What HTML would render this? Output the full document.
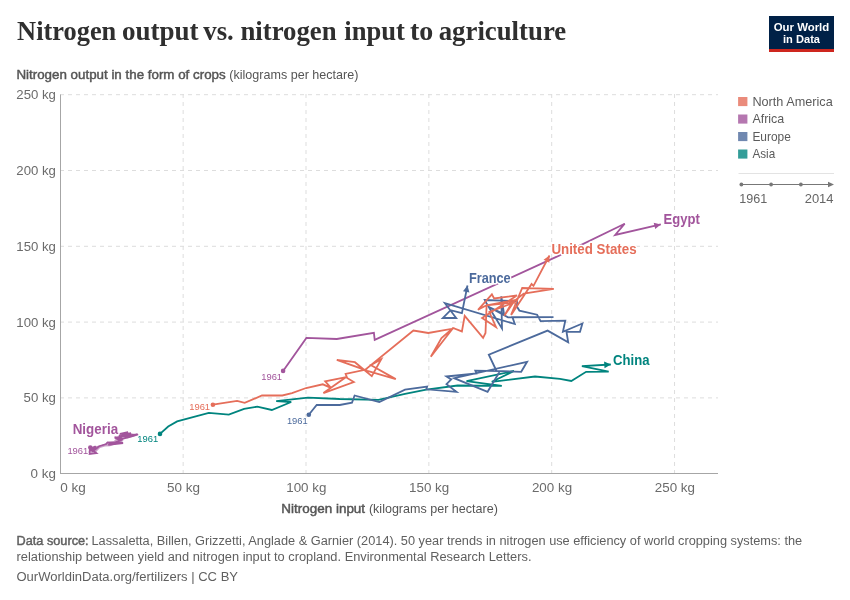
<!DOCTYPE html>
<html><head><meta charset="utf-8"><style>
html,body{margin:0;padding:0;background:#fff;width:850px;height:600px;overflow:hidden}
svg{display:block;font-family:"Liberation Sans",sans-serif;will-change:transform}
.lbl text{paint-order:stroke;stroke:#fff;stroke-width:3px;stroke-linejoin:round}
.semi{stroke:#555;stroke-width:0.45px}
.semi2{stroke:#606060;stroke-width:0.45px}
.yr text{paint-order:stroke;stroke:#fff;stroke-width:2px;stroke-linejoin:round}
</style></head><body>
<svg width="850" height="600" viewBox="0 0 850 600">
<rect width="850" height="600" fill="#fff"/>
<rect x="769" y="16" width="65" height="36" fill="#002147"/>
<rect x="769" y="49" width="65" height="3" fill="#CE261E"/>
<text x="801.5" y="30.7" font-size="11.6" fill="#fff" font-weight="bold" text-anchor="middle" textLength="55.5" lengthAdjust="spacingAndGlyphs">Our World</text>
<text x="801.5" y="42.5" font-size="11.6" fill="#fff" font-weight="bold" text-anchor="middle" textLength="37" lengthAdjust="spacingAndGlyphs">in Data</text>

<g stroke="#ddd" stroke-width="1" stroke-dasharray="4,4">
<line x1="60" y1="397.9" x2="718" y2="397.9"/>
<line x1="60" y1="322.1" x2="718" y2="322.1"/>
<line x1="60" y1="246.3" x2="718" y2="246.3"/>
<line x1="60" y1="170.5" x2="718" y2="170.5"/>
<line x1="60" y1="94.7" x2="718" y2="94.7"/>
<line x1="183.15" y1="94" x2="183.15" y2="473"/>
<line x1="306" y1="94" x2="306" y2="473"/>
<line x1="428.85" y1="94" x2="428.85" y2="473"/>
<line x1="551.7" y1="94" x2="551.7" y2="473"/>
<line x1="674.55" y1="94" x2="674.55" y2="473"/>
</g>
<line x1="60.5" y1="94.5" x2="60.5" y2="473.5" stroke="#a6a6a6" stroke-width="1"/>
<line x1="60" y1="473.5" x2="718" y2="473.5" stroke="#a6a6a6" stroke-width="1"/>
<text x="17.1" y="40.1" font-size="27.6" fill="#2f2f2f" font-weight="bold" font-family="Liberation Serif" textLength="99.2" lengthAdjust="spacingAndGlyphs">Nitrogen</text>
<text x="121.92" y="40.1" font-size="27.6" fill="#2f2f2f" font-weight="bold" font-family="Liberation Serif" textLength="76.7" lengthAdjust="spacingAndGlyphs">output</text>
<text x="203.3" y="40.1" font-size="27.6" fill="#2f2f2f" font-weight="bold" font-family="Liberation Serif" textLength="30.49" lengthAdjust="spacingAndGlyphs">vs.</text>
<text x="240.4" y="40.1" font-size="27.6" fill="#2f2f2f" font-weight="bold" font-family="Liberation Serif" textLength="96.24" lengthAdjust="spacingAndGlyphs">nitrogen</text>
<text x="344.25" y="40.1" font-size="27.6" fill="#2f2f2f" font-weight="bold" font-family="Liberation Serif" textLength="60.66" lengthAdjust="spacingAndGlyphs">input</text>
<text x="409.9" y="40.1" font-size="27.6" fill="#2f2f2f" font-weight="bold" font-family="Liberation Serif" textLength="23.31" lengthAdjust="spacingAndGlyphs">to</text>
<text x="438.73" y="40.1" font-size="27.6" fill="#2f2f2f" font-weight="bold" font-family="Liberation Serif" textLength="127.47" lengthAdjust="spacingAndGlyphs">agriculture</text>
<text x="16.4" y="78.8" font-size="12.9" fill="#555" class="semi" textLength="209.3" lengthAdjust="spacingAndGlyphs">Nitrogen output in the form of crops</text>
<text x="229.3" y="78.8" font-size="12.9" fill="#555" textLength="129.1" lengthAdjust="spacingAndGlyphs">(kilograms per hectare)</text>
<text x="55.9" y="478.2" font-size="13" fill="#6b6b6b" text-anchor="end" textLength="25.3" lengthAdjust="spacingAndGlyphs">0 kg</text>
<text x="55.9" y="402.4" font-size="13" fill="#6b6b6b" text-anchor="end" textLength="32.3" lengthAdjust="spacingAndGlyphs">50 kg</text>
<text x="55.9" y="326.6" font-size="13" fill="#6b6b6b" text-anchor="end" textLength="39.6" lengthAdjust="spacingAndGlyphs">100 kg</text>
<text x="55.9" y="250.8" font-size="13" fill="#6b6b6b" text-anchor="end" textLength="39.6" lengthAdjust="spacingAndGlyphs">150 kg</text>
<text x="55.9" y="175" font-size="13" fill="#6b6b6b" text-anchor="end" textLength="39.6" lengthAdjust="spacingAndGlyphs">200 kg</text>
<text x="55.9" y="99.2" font-size="13" fill="#6b6b6b" text-anchor="end" textLength="39.6" lengthAdjust="spacingAndGlyphs">250 kg</text>
<text x="60.2" y="492" font-size="13" fill="#6b6b6b" textLength="25.6" lengthAdjust="spacingAndGlyphs">0 kg</text>
<text x="183.45" y="492" font-size="13" fill="#6b6b6b" text-anchor="middle" textLength="33" lengthAdjust="spacingAndGlyphs">50 kg</text>
<text x="306.3" y="492" font-size="13" fill="#6b6b6b" text-anchor="middle" textLength="40.2" lengthAdjust="spacingAndGlyphs">100 kg</text>
<text x="429.15" y="492" font-size="13" fill="#6b6b6b" text-anchor="middle" textLength="40.2" lengthAdjust="spacingAndGlyphs">150 kg</text>
<text x="552" y="492" font-size="13" fill="#6b6b6b" text-anchor="middle" textLength="40.2" lengthAdjust="spacingAndGlyphs">200 kg</text>
<text x="674.85" y="492" font-size="13" fill="#6b6b6b" text-anchor="middle" textLength="40.2" lengthAdjust="spacingAndGlyphs">250 kg</text>
<text x="281.3" y="513.4" font-size="12.9" fill="#555" class="semi" textLength="83.8" lengthAdjust="spacingAndGlyphs">Nitrogen input</text>
<text x="368.9" y="513.4" font-size="12.9" fill="#555" textLength="129" lengthAdjust="spacingAndGlyphs">(kilograms per hectare)</text>
<polygon fill="#A2559C" fill-opacity="0.55" points="89.8,447.3 92.4,446.6 95.5,446 99.3,445.7 105,444.1 106.3,442.5 114,440.9 115.9,438.7 114.3,436.5 119,435.8 119.7,433 124.1,433 128.6,432.6 134.3,433.9 137.5,434.7 132.4,437 122.8,439.6 122.3,442.9 114.6,444.6 110.1,446.2 105,446.5 100,448.1 96.8,451.3 96.2,453.5 89.4,454.4"/>
<polyline fill="none" stroke="#A2559C" stroke-width="1.8" stroke-linejoin="miter" stroke-miterlimit="4" points="283.1,370.9 306.4,337.9 336.8,339 373.9,332.9 374.7,339.9 560.1,255.1 624.7,223.7 615.2,235 660.8,224.4"/>
<circle cx="283.1" cy="370.9" r="2.3" fill="#A2559C"/>
<polygon fill="#A2559C" points="660.8,224.4 655.22,229.09 653.72,222.66"/>
<polyline fill="none" stroke="#A2559C" stroke-width="1.8" stroke-linejoin="miter" stroke-miterlimit="4" points="90.3,447.6 89.2,453.9 96.3,453.2 90.6,449 95.6,446.2 92.1,451.8 99.1,446.2 106.2,444 107.6,442.3 123.1,443 108.3,444.8 120.3,440.5 114.6,437.4 121.7,439.1 118.9,434.2 128,432.1 117,438.3 131,433.2 120.3,436.3 137.2,434.5 124.5,436.6 134.4,435.6 122,439 136,434.5 127.3,437.7 138.2,434.3"/>
<circle cx="90.3" cy="447.6" r="2.3" fill="#A2559C"/>
<polyline fill="none" stroke="#00847E" stroke-width="1.8" stroke-linejoin="miter" stroke-miterlimit="4" points="160,433.9 168.2,426.5 177.1,421.4 208.8,412.9 228.8,414.7 244.1,408.8 257.3,406.7 271.8,410 291.2,402 276.2,401.2 308,397.6 339.7,399 378.5,399.8 405,393.8 426.3,389.7 457.6,385.5 501.8,385.9 466.5,381.2 514,371 491.8,381.8 535,376.5 560,378.9 571.3,381 586.1,371.8 608.7,371.6 581.9,366.2 610.8,364.5"/>
<circle cx="160" cy="433.9" r="2.3" fill="#00847E"/>
<polygon fill="#00847E" points="610.8,364.5 604.5,368.18 604.12,361.59"/>
<polyline fill="none" stroke="#4C6A9C" stroke-width="1.8" stroke-linejoin="miter" stroke-miterlimit="4" points="308.8,414.7 316.7,405 339.7,405 352,402.6 354.6,395.5 379.3,402 405,389.7 427.1,386.7 426.3,389.3 456.5,391.8 446.5,384.1 451.2,379.4 446.5,376.5 476.5,373.5 475.3,370.6 500,371 487.6,391.8 454.1,378.2 527.1,361.8 521.2,371.8 496.5,371 488.8,354.7 547.6,330.6 568.2,342.4 566.5,331.8 580,331.8 582.4,323.5 562.9,331.8 565.3,320.6 540.6,321.2 537.1,314.7 519.4,310.6 517,306.8 517,301.1 484.8,300 486.3,303 502,328.5 501.3,296.3 504,314 488.5,306.8 508,317.3 553.5,317.1 512.4,317.1 514.8,324 444.9,303.2 456.2,318 442.8,318 450.6,310.2 461.9,313.1 467.5,285.5"/>
<circle cx="308.8" cy="414.7" r="2.3" fill="#4C6A9C"/>
<polygon fill="#4C6A9C" points="467.5,285.5 469.44,292.53 462.97,291.21"/>
<polyline fill="none" stroke="#E56E5A" stroke-width="1.8" stroke-linejoin="miter" stroke-miterlimit="4" points="212.9,404.7 237.1,400.9 244.7,402.9 262,395.5 282.3,395.5 292,393.2 306.1,388 322.8,384.3 331,387.8 325.2,381.4 346.2,377.1 331.6,387.3 323.4,393.1 353.8,382 347.1,377.9 345.6,373.8 364.8,369.8 336.8,359.8 354.9,362.2 371.8,376.2 381.2,359.3 370.7,365.1 395.8,379.1 364.8,370.1 413.4,330.5 428.3,333 452.5,328.7 430.8,356.7 441.5,338 453,328 461.9,331.4 464.7,315.9 483.1,337.8 485.5,333 486.6,305.3 478,309.8 491.9,294.4 494.1,298.5 517,295.5 482.1,318 496,327 489.3,312 514.8,302.3 486.6,305.3 515,300 504.3,315.8 511.8,303 523.7,293.5 553.8,288.8 522.2,288 511.1,314.9 531.6,284 533.5,285.8 549.5,255.5"/>
<circle cx="212.9" cy="404.7" r="2.3" fill="#E56E5A"/>
<polygon fill="#E56E5A" points="549.5,255.5 549.38,262.79 543.55,259.71"/>
<g class="lbl">
<text x="663.6" y="223.8" font-size="14.8" fill="#A2559C" font-weight="bold" textLength="36.2" lengthAdjust="spacingAndGlyphs">Egypt</text>
<text x="551.4" y="253.5" font-size="14.8" fill="#E56E5A" font-weight="bold" textLength="85.2" lengthAdjust="spacingAndGlyphs">United States</text>
<text x="468.9" y="282.7" font-size="14.8" fill="#4C6A9C" font-weight="bold" textLength="41.8" lengthAdjust="spacingAndGlyphs">France</text>
<text x="613.1" y="364.6" font-size="14.8" fill="#00847E" font-weight="bold" textLength="36.4" lengthAdjust="spacingAndGlyphs">China</text>
<text x="72.7" y="434.4" font-size="14.8" fill="#A2559C" font-weight="bold" textLength="45.4" lengthAdjust="spacingAndGlyphs">Nigeria</text>
</g>
<g class="yr">
<text x="261.2" y="379.5" font-size="9.8" fill="#A2559C" textLength="20.9" lengthAdjust="spacingAndGlyphs">1961</text>
<text x="189.2" y="409.6" font-size="9.8" fill="#E56E5A" textLength="20.9" lengthAdjust="spacingAndGlyphs">1961</text>
<text x="286.9" y="423.5" font-size="9.8" fill="#4C6A9C" textLength="20.9" lengthAdjust="spacingAndGlyphs">1961</text>
<text x="137.3" y="442" font-size="9.8" fill="#00847E" textLength="20.9" lengthAdjust="spacingAndGlyphs">1961</text>
<text x="67.4" y="454" font-size="9.8" fill="#A2559C" textLength="20.9" lengthAdjust="spacingAndGlyphs">1961</text>
</g>
<rect x="738.1" y="97" width="9.3" height="9.1" fill="#E56E5A" fill-opacity="0.8"/>
<text x="752.4" y="105.8" font-size="12.8" fill="#5b5b5b" textLength="80.3" lengthAdjust="spacingAndGlyphs">North America</text>
<rect x="738.1" y="114.5" width="9.3" height="9.1" fill="#A2559C" fill-opacity="0.8"/>
<text x="752.4" y="123.3" font-size="12.8" fill="#5b5b5b" textLength="31.8" lengthAdjust="spacingAndGlyphs">Africa</text>
<rect x="738.1" y="132" width="9.3" height="9.1" fill="#4C6A9C" fill-opacity="0.8"/>
<text x="752.4" y="140.8" font-size="12.8" fill="#5b5b5b" textLength="38.4" lengthAdjust="spacingAndGlyphs">Europe</text>
<rect x="738.1" y="149.5" width="9.3" height="9.1" fill="#00847E" fill-opacity="0.8"/>
<text x="752.4" y="158.3" font-size="12.8" fill="#5b5b5b" textLength="22.8" lengthAdjust="spacingAndGlyphs">Asia</text>

<line x1="738.5" y1="173.5" x2="834" y2="173.5" stroke="#e3e3e3" stroke-width="1"/>
<line x1="741.4" y1="184.5" x2="829" y2="184.5" stroke="#777" stroke-width="1"/>
<circle cx="741.4" cy="184.5" r="1.9" fill="#777"/>
<circle cx="771.1" cy="184.5" r="1.9" fill="#777"/>
<circle cx="800.9" cy="184.5" r="1.9" fill="#777"/>
<polygon points="834,184.5 828,181.8 828,187.2" fill="#777"/>
<text x="739.3" y="203.4" font-size="13" fill="#666" textLength="28" lengthAdjust="spacingAndGlyphs">1961</text>
<text x="833.5" y="203.4" font-size="13" fill="#666" text-anchor="end" textLength="28.8" lengthAdjust="spacingAndGlyphs">2014</text>
<text x="16.5" y="544.6" font-size="12.5" fill="#606060" class="semi2" textLength="72.1" lengthAdjust="spacingAndGlyphs">Data source:</text>
<text x="91.5" y="544.6" font-size="12.5" fill="#606060" textLength="710.7" lengthAdjust="spacingAndGlyphs">Lassaletta, Billen, Grizzetti, Anglade &amp; Garnier (2014). 50 year trends in nitrogen use efficiency of world cropping systems: the</text>
<text x="16.5" y="560.6" font-size="12.5" fill="#606060" textLength="515" lengthAdjust="spacingAndGlyphs">relationship between yield and nitrogen input to cropland. Environmental Research Letters.</text>
<text x="16.5" y="580.5" font-size="12.5" fill="#606060" textLength="221.5" lengthAdjust="spacingAndGlyphs">OurWorldinData.org/fertilizers | CC BY</text>

</svg>
</body></html>
